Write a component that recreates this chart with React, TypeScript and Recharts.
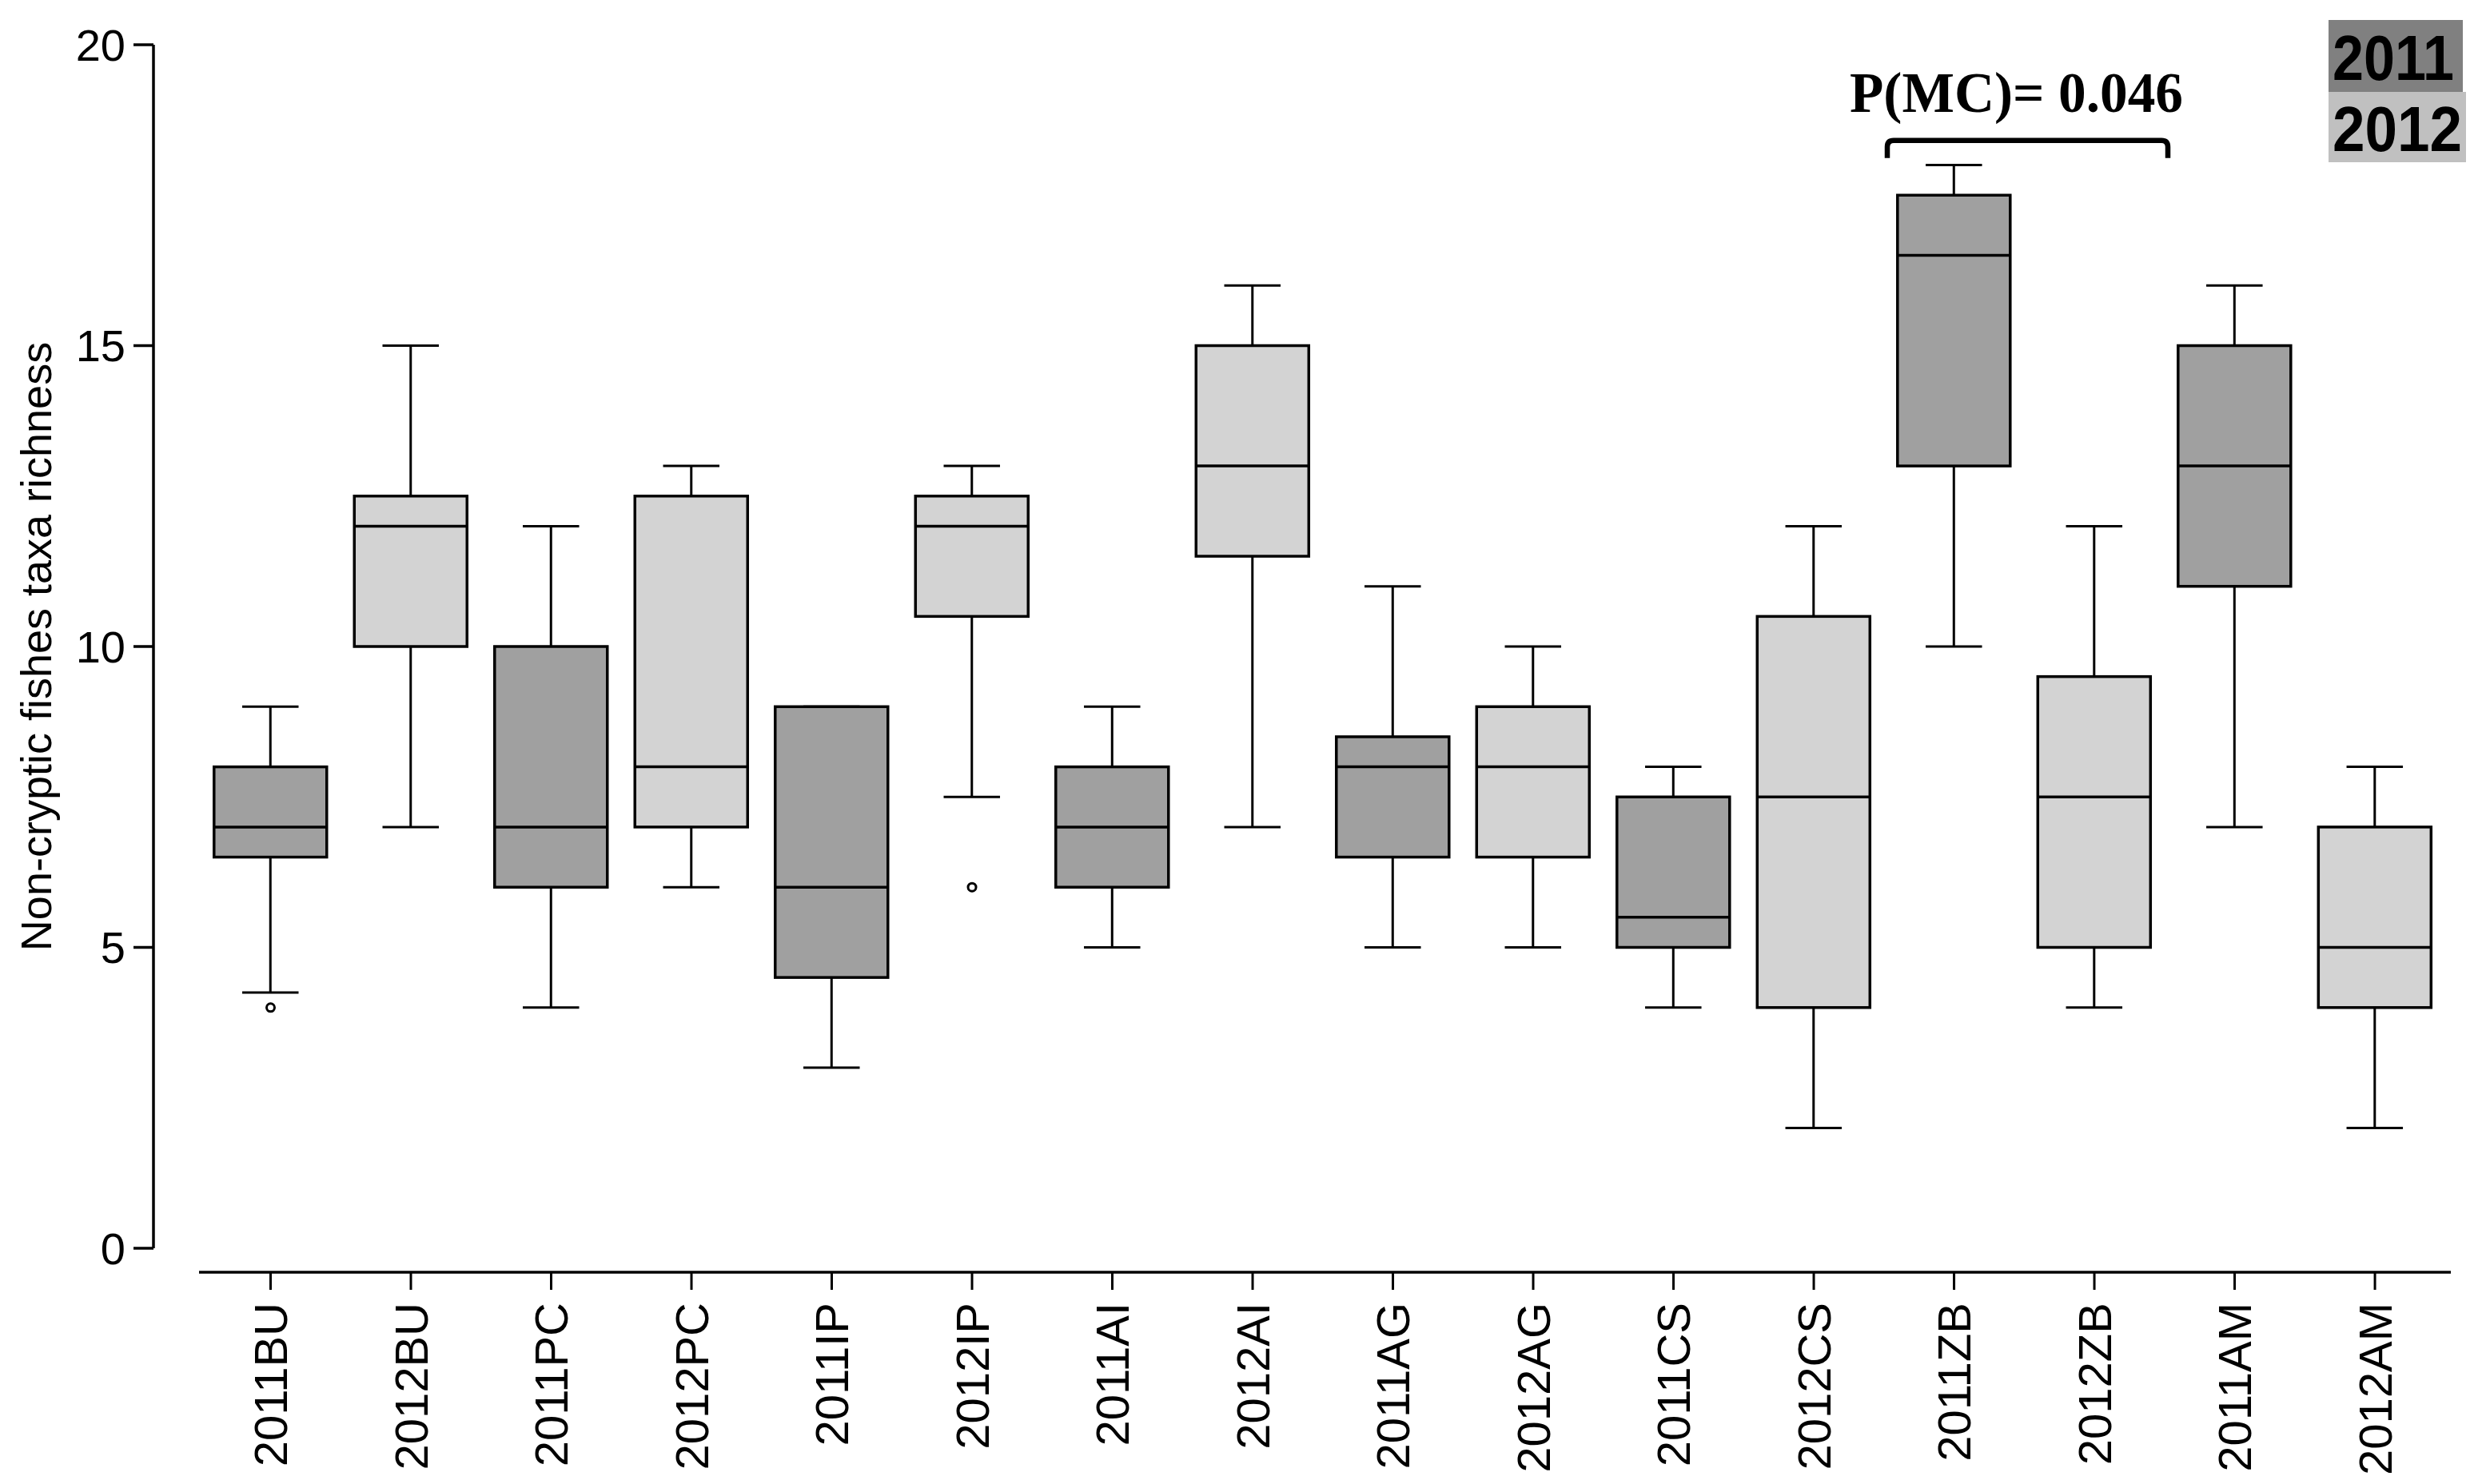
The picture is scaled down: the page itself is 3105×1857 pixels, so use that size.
import { ComposedChart, Bar, Scatter, XAxis, YAxis, ReferenceLine, Legend } from 'recharts';

const categories = [
  '2011BU', '2012BU', '2011PC', '2012PC', '2011IP', '2012IP', '2011AI', '2012AI',
  '2011AG', '2012AG', '2011CS', '2012CS', '2011ZB', '2012ZB', '2011AM', '2012AM',
];
const whiskerLow = [4.25, 7, 4, 6, 3, 7.5, 5, 7, 5, 5, 4, 2, 10, 4, 7, 2];
const q1 = [6.5, 10, 6, 7, 4.5, 10.5, 6, 11.5, 6.5, 6.5, 5, 4, 13, 5, 11, 4];
const medians = [7, 12, 7, 8, 6, 12, 7, 13, 8, 8, 5.5, 7.5, 16.5, 7.5, 13, 5];
const q3 = [8, 12.5, 10, 12.5, 9, 12.5, 8, 15, 8.5, 9, 7.5, 10.5, 17.5, 9.5, 15, 7];
const whiskerHigh = [9, 15, 12, 13, 9, 13, 9, 16, 11, 10, 8, 12, 18, 12, 16, 8];
const outlierSites = ['2011BU', '2012IP'];
const outlierValues = [4, 6];
const yTicks = [0, 5, 10, 15, 20];
const legendYears = ['2011', '2012'];
const pLabel = 'P(MC)= 0.046';
const yLabel = 'Non-cryptic fishes taxa richness';

const FILL_2011 = '#a0a0a0';
const FILL_2012 = '#d3d3d3';
const LEGEND_COLORS = ['#808080', '#c0c0c0'];
const SANS = '"Liberation Sans", Arial, sans-serif';

// x domain chosen so the category centres fall where the original puts them
const X_MIN = -0.8348;
const X_MAX = 15.541;
const X_LINE_START = -0.51;
const X_LINE_LEVEL = -0.398;

const rows = categories.map((site, i) => ({
  idx: i,
  site,
  year: Number(site.slice(0, 4)),
  min: whiskerLow[i],
  q1: q1[i],
  median: medians[i],
  q3: q3[i],
  max: whiskerHigh[i],
}));

const outliers = outlierSites.map((s, k) => ({ idx: categories.indexOf(s), v: outlierValues[k] }));

function BoxShape(props: any) {
  const { x, y, width, height, payload } = props;
  if (!payload || height == null) return null;
  const ppu = height / (payload.max - payload.min);
  const py = (v: number) => y + (payload.max - v) * ppu;
  const cx = x + width / 2;
  const cap = width / 4;
  const fill = payload.year === 2011 ? FILL_2011 : FILL_2012;
  return (
    <g>
      <line x1={cx} x2={cx} y1={py(payload.max)} y2={py(payload.q3)} stroke="#000" strokeWidth={3} />
      <line x1={cx - cap} x2={cx + cap} y1={py(payload.max)} y2={py(payload.max)} stroke="#000" strokeWidth={3} />
      <line x1={cx} x2={cx} y1={py(payload.q1)} y2={py(payload.min)} stroke="#000" strokeWidth={3} />
      <line x1={cx - cap} x2={cx + cap} y1={py(payload.min)} y2={py(payload.min)} stroke="#000" strokeWidth={3} />
      <rect
        x={x}
        y={py(payload.q3)}
        width={width}
        height={py(payload.q1) - py(payload.q3)}
        fill={fill}
        stroke="#000"
        strokeWidth={3.5}
      />
      <line x1={x} x2={x + width} y1={py(payload.median)} y2={py(payload.median)} stroke="#000" strokeWidth={3.5} />
    </g>
  );
}

function SiteTick(props: any) {
  const { x, y, payload } = props;
  const label = categories[payload.value];
  return (
    <g>
      <line x1={x} x2={x} y1={y} y2={y + 22} stroke="#000" strokeWidth={3} />
      <text
        transform={`translate(${x},${y + 38}) rotate(-90)`}
        textAnchor="end"
        dy="0.36em"
        fontSize={58}
        fontFamily={SANS}
        fill="#000"
      >
        {label}
      </text>
    </g>
  );
}

function Bracket(props: any) {
  const { x1, x2, y1 } = props;
  const drop = 22;
  const r = 8;
  return (
    <g>
      <path
        d={`M${x1},${y1 + drop} L${x1},${y1 + r} Q${x1},${y1} ${x1 + r},${y1} L${x2 - r},${y1} Q${x2},${y1} ${x2},${y1 + r} L${x2},${y1 + drop}`}
        fill="none"
        stroke="#000"
        strokeWidth={6.5}
      />
      <text
        x={(x1 + x2) / 2 - 14}
        y={y1 - 36}
        textAnchor="middle"
        fontFamily='"Liberation Serif", "Times New Roman", serif'
        fontWeight="bold"
        fontSize={72}
        textLength={417}
        lengthAdjust="spacingAndGlyphs"
        fill="#000"
      >
        {pLabel}
      </text>
    </g>
  );
}

function YearLegend() {
  return (
    <svg width={190} height={185} style={{ overflow: 'visible' }}>
      <rect x={0} y={0} width={168} height={90} fill={LEGEND_COLORS[0]} />
      <rect x={0} y={90} width={172} height={88} fill={LEGEND_COLORS[1]} />
      {legendYears.map((yr, i) => (
        <text
          key={yr}
          x={5}
          y={i === 0 ? 75 : 164}
          fontFamily='"Liberation Sans Narrow", "Liberation Sans", Arial, sans-serif'
          fontWeight="bold"
          fontSize={80}
          textLength={i === 0 ? 152 : 162}
          lengthAdjust="spacingAndGlyphs"
          fill="#000"
        >
          {yr}
        </text>
      ))}
    </svg>
  );
}

export default function App() {
  return (
    <div style={{ position: 'absolute', left: 0, top: 0, width: 3105, height: 1857, background: '#fff' }}>
      <ComposedChart
        width={3105}
        height={1857}
        data={rows}
        margin={{ top: 56, right: 39, bottom: 0, left: 0 }}
      >
        <XAxis
          type="number"
          dataKey="idx"
          domain={[X_MIN, X_MAX]}
          allowDataOverflow
          ticks={categories.map((_, i) => i)}
          interval={0}
          height={295}
          axisLine={false}
          tickLine={false}
          tickSize={30}
          tickMargin={0}
          tick={<SiteTick />}
        />
        <YAxis
          type="number"
          domain={[0, 20]}
          ticks={yTicks}
          width={192}
          tickSize={25}
          tickMargin={10}
          axisLine={{ stroke: '#000', strokeWidth: 3.5 }}
          tickLine={{ stroke: '#000', strokeWidth: 3.5 }}
          tick={{ fill: '#000', fontSize: 56, fontFamily: SANS }}
          label={(p: any) => {
            const vb = p.viewBox || {};
            const cy = (vb.y ?? 56) + (vb.height ?? 1506) / 2;
            return (
              <text
                transform={`translate(64,${cy}) rotate(-90)`}
                textAnchor="middle"
                fontSize={54}
                fontFamily={SANS}
                fill="#000"
              >
                {yLabel}
              </text>
            );
          }}
        />
        <ReferenceLine
          segment={[
            { x: X_LINE_START, y: X_LINE_LEVEL },
            { x: X_MAX, y: X_LINE_LEVEL },
          ]}
          stroke="#000"
          strokeWidth={3.5}
          ifOverflow="visible"
        />
        <Bar
          dataKey={(d: any) => [d.min, d.max]}
          barSize={141}
          shape={<BoxShape />}
          isAnimationActive={false}
        />
        <Scatter
          data={outliers}
          dataKey="v"
          isAnimationActive={false}
          shape={(p: any) => <circle cx={p.cx} cy={p.cy} r={5} fill="#fff" stroke="#000" strokeWidth={3} />}
        />
        <ReferenceLine
          segment={[
            { x: 11.524, y: 18.41 },
            { x: 13.524, y: 18.41 },
          ]}
          ifOverflow="visible"
          shape={(p: any) => <Bracket {...p} />}
        />
        <Legend
          layout="vertical"
          align="center"
          verticalAlign="middle"
          wrapperStyle={{ left: 2913, top: 25, width: 190, height: 185 }}
          content={() => <YearLegend />}
        />
      </ComposedChart>
    </div>
  );
}
